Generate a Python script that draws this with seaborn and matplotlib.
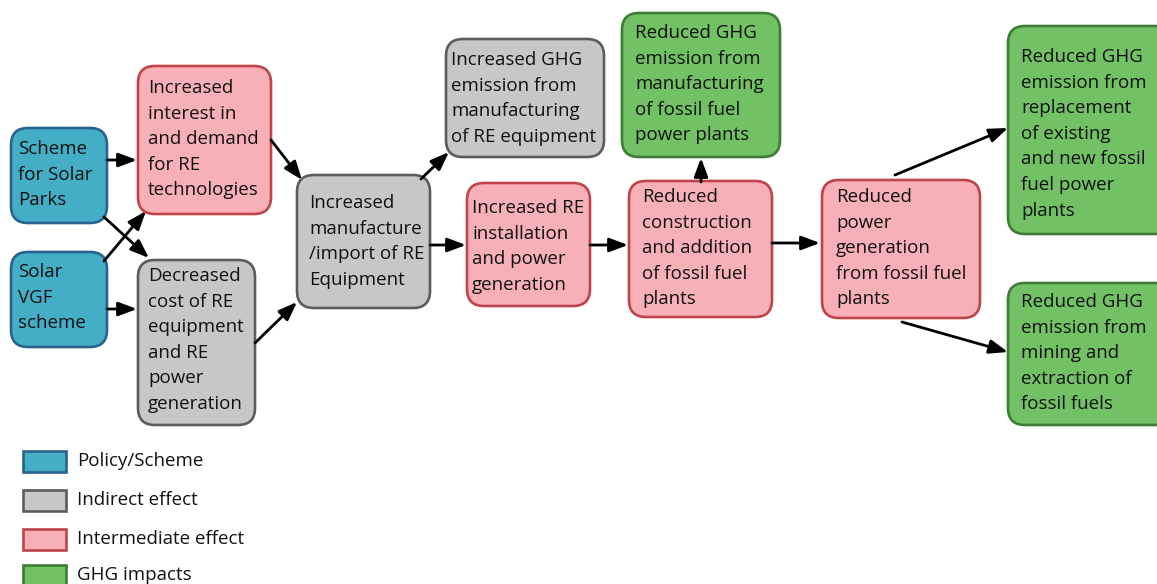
"""
Diagrama de efeitos das políticas solares sobre emissões de GEE.
Desenha caixas arredondadas e setas num eixo em coordenadas de pixel.
"""

import matplotlib
matplotlib.use("Agg")
import matplotlib.pyplot as plt
from matplotlib.patches import FancyBboxPatch, Rectangle
import seaborn as sns

# categorias e cores
categorias = ["Policy/Scheme", "Indirect effect", "Intermediate effect", "GHG impacts"]
cores_fundo = ["#43AEC6", "#C7C7C7", "#F8B0B8", "#72C164"]
cores_borda = ["#2A628E", "#5C5C5C", "#BF434B", "#3E7C38"]

# textos das caixas (uma linha por item) e categoria de cada uma
textos = [
    ["Scheme", "for Solar", "Parks"],
    ["Solar", "VGF", "scheme"],
    ["Increased", "interest in", "and demand", "for RE", "technologies"],
    ["Decreased", "cost of RE", "equipment", "and RE", "power", "generation"],
    ["Increased", "manufacture", "/import of RE", "Equipment"],
    ["Increased GHG", "emission from", "manufacturing", "of RE equipment"],
    ["Increased RE", "installation", "and power", "generation"],
    ["Reduced GHG", "emission from", "manufacturing", "of fossil fuel", "power plants"],
    ["Reduced", "construction", "and addition", "of fossil fuel", "plants"],
    ["Reduced", "power", "generation", "from fossil fuel", "plants"],
    ["Reduced GHG", "emission from", "replacement", "of existing", "and new fossil", "fuel power", "plants"],
    ["Reduced GHG", "emission from", "mining and", "extraction of", "fossil fuels"],
]
categoria_caixa = [0, 0, 2, 1, 1, 1, 2, 3, 2, 2, 3, 3]

# layout (pixels): x0, y0, x1, y1 e posição da primeira linha de texto
caixas = [
    (11, 128, 107, 223), (11, 252, 107, 347), (138, 66, 271, 214),
    (138, 260, 255, 425), (297, 175, 430, 308), (446, 39, 604, 157),
    (467, 183, 590, 306), (622, 13, 780, 157), (629, 181, 772, 317),
    (822, 180, 980, 318), (1008, 26, 1185, 234), (1008, 283, 1185, 425),
]
texto_xy = [
    (18, 149), (18, 272), (148, 88), (148, 276), (309, 203), (451, 60),
    (472, 208), (635, 33), (642, 197), (836, 197), (1021, 57), (1021, 302),
]
passo_linha = 25.6

# setas: (x inicial, y inicial, x final, y final)
setas = [
    (107, 160, 137, 160), (107, 309, 137, 309), (104, 217, 149, 258),
    (104, 261, 146, 211), (271, 140, 302, 180), (255, 343, 297, 302),
    (421, 179, 449, 152), (430, 245, 466, 245), (590, 245, 628, 245),
    (701, 182, 701, 158), (772, 243, 820, 243), (895, 175, 1008, 128),
    (902, 322, 1008, 352),
]

# legenda
legenda_y = [461, 500, 539, 575]


def desenhar():
    sns.set_theme(style="white")
    plt.rcParams["font.family"] = ["Open Sans", "DejaVu Sans"]

    fig = plt.figure(figsize=(11.57, 5.84), dpi=100)
    ax = fig.add_axes([0, 0, 1, 1])
    ax.set_xlim(0, 1157)
    ax.set_ylim(584, 0)
    ax.axis("off")

    # caixas
    for (x0, y0, x1, y1), cat in zip(caixas, categoria_caixa):
        caixa = FancyBboxPatch((x0, y0), x1 - x0, y1 - y0,
                               boxstyle="round,pad=0,rounding_size=17",
                               facecolor=cores_fundo[cat], edgecolor=cores_borda[cat],
                               linewidth=1.9, zorder=2)
        ax.add_patch(caixa)

    # textos
    for linhas, (tx, ty) in zip(textos, texto_xy):
        for i, linha in enumerate(linhas):
            ax.text(tx, ty + i * passo_linha, linha, fontsize=13.5, color="#111111",
                    ha="left", va="center", zorder=3)

    # setas
    for x0, y0, x1, y1 in setas:
        ax.annotate("", xy=(x1, y1), xytext=(x0, y0),
                    arrowprops=dict(arrowstyle="-|>,head_length=0.8,head_width=0.3",
                                    color="black", lw=2,
                                    mutation_scale=14, shrinkA=0, shrinkB=0),
                    zorder=4)

    # legenda
    for cat, ly in enumerate(legenda_y):
        ax.add_patch(Rectangle((23, ly - 10.5), 43, 21, facecolor=cores_fundo[cat],
                               edgecolor=cores_borda[cat], linewidth=1.9, zorder=2))
        ax.text(77, ly, categorias[cat], fontsize=13.5, color="#111111",
                ha="left", va="center")

    fig.savefig("out.png", dpi=100)
    plt.close(fig)


if __name__ == "__main__":
    desenhar()
